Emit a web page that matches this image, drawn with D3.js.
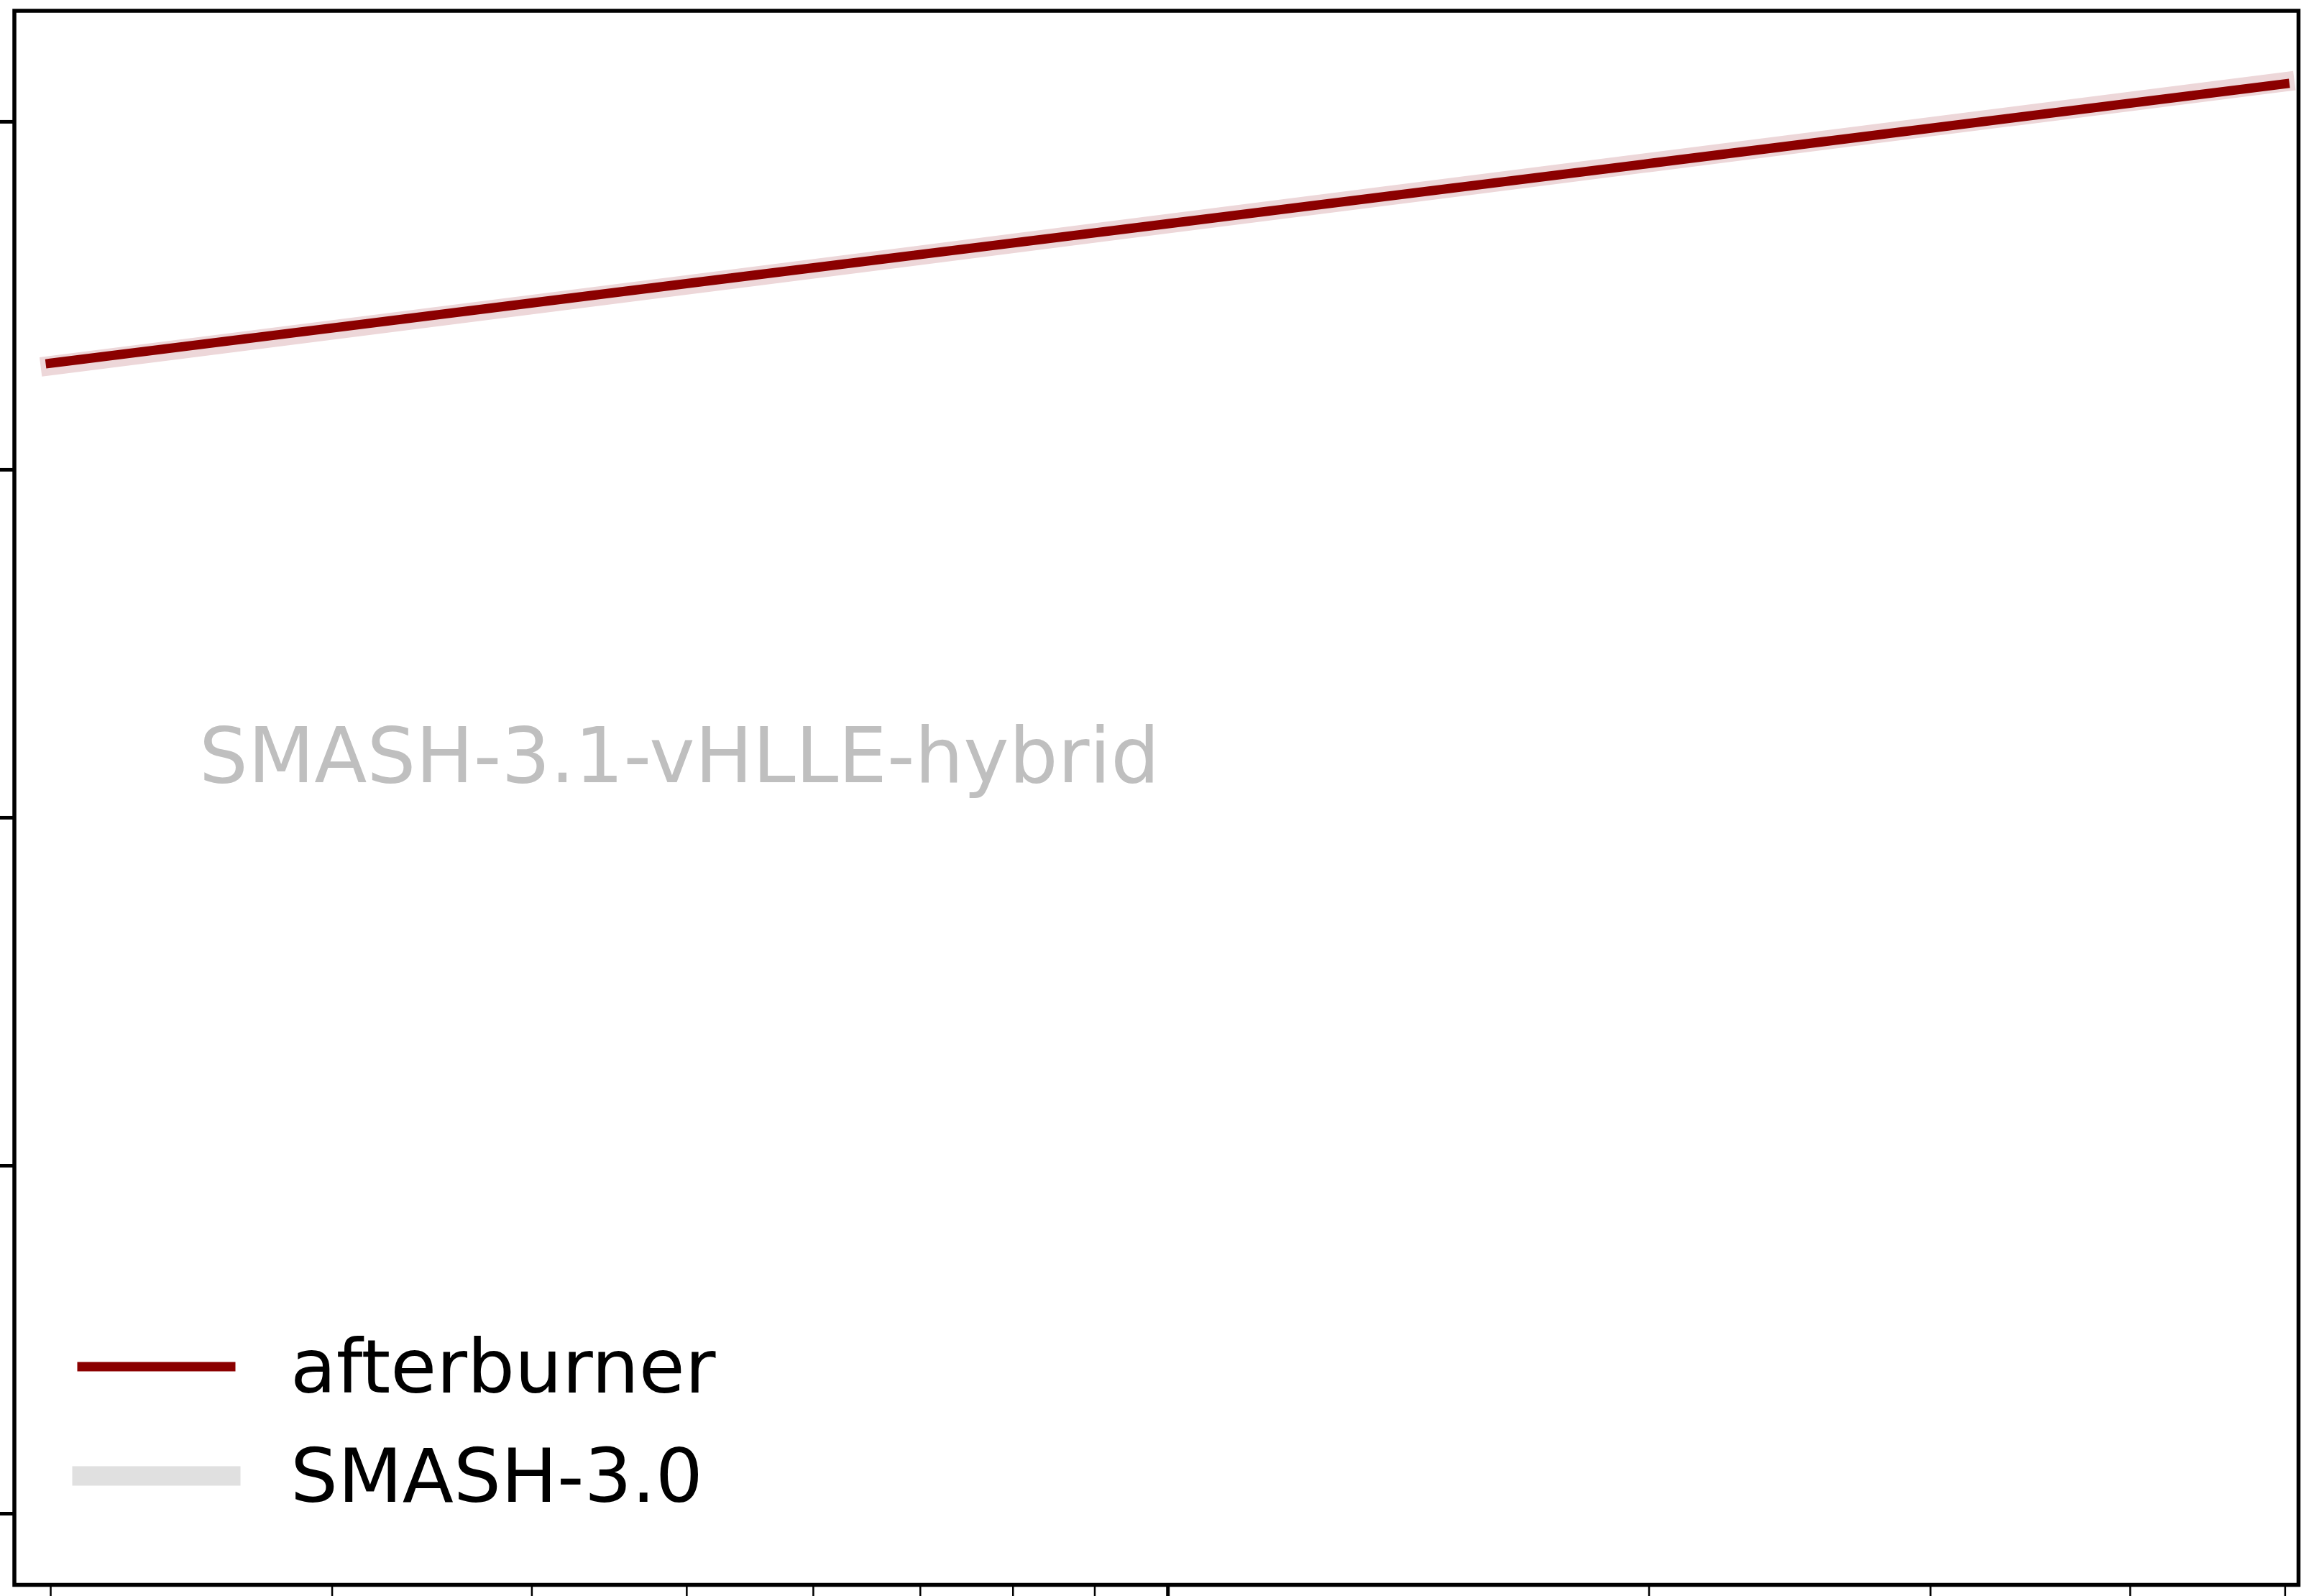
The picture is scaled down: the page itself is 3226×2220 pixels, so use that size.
<!DOCTYPE html>
<html>
<head>
<meta charset="utf-8">
<script src="https://cdn.jsdelivr.net/npm/d3@7"></script>
<style>
  body { margin: 0; background: #fff; }
  text { font-family: "DejaVu Sans", sans-serif; }
</style>
</head>
<body>
<div id="chart"></div>
<script>
// values (no tick labels are visible, so y units are arbitrary)
const xValues = [2, 5, 10, 20, 50];
const afterburner = [4.305, 4.534, 4.706, 4.879, 5.108];
const smash30 = [4.298, 4.530, 4.706, 4.882, 5.114];
const xMajorTicks = [10];
const xMinorTicks = [2, 3, 4, 5, 6, 7, 8, 9, 20, 30, 40, 50];
const yTicks = [1, 2, 3, 4, 5];
const seriesNames = ['afterburner', 'SMASH-3.0'];
const label = 'SMASH-3.1-vHLLE-hybrid';

const width = 3226;
const height = 2220;
const frame = { left: 20, right: 3197.5, top: 15, bottom: 2204.5 };

const svg = d3.select('#chart').append('svg')
    .attr('width', width)
    .attr('height', height);

svg.append('rect')
    .attr('width', width)
    .attr('height', height)
    .attr('fill', '#fff');

const x = d3.scaleLog()
    .domain([1.899, 51.0])
    .range([frame.left, frame.right]);

const y = d3.scaleLinear()
    .domain([0.7944, 5.318])
    .range([frame.bottom, frame.top]);

// axes (labels fall outside the cropped figure)
const yAxis = svg.append('g')
    .attr('transform', `translate(${frame.left},0)`)
    .call(d3.axisLeft(y).tickValues(yTicks).tickSize(22).tickFormat(''));
yAxis.select('.domain').remove();
yAxis.selectAll('line').attr('stroke', '#000').attr('stroke-width', 5);

const xMinor = svg.append('g')
    .attr('transform', `translate(0,${frame.bottom})`)
    .call(d3.axisBottom(x).tickValues(xMinorTicks).tickSize(16).tickFormat(''));
xMinor.select('.domain').remove();
xMinor.selectAll('line').attr('stroke', '#000').attr('stroke-width', 2.5);

const xMajor = svg.append('g')
    .attr('transform', `translate(0,${frame.bottom})`)
    .call(d3.axisBottom(x).tickValues(xMajorTicks).tickSize(22).tickFormat(''));
xMajor.select('.domain').remove();
xMajor.selectAll('line').attr('stroke', '#000').attr('stroke-width', 5);

const line = d3.line()
    .x(d => x(d[0]))
    .y(d => y(d[1]));

svg.append('path')
    .datum(d3.zip(xValues, smash30))
    .attr('d', line)
    .attr('fill', 'none')
    .attr('stroke', '#edd7d9')
    .attr('stroke-width', 27)
    .attr('stroke-linecap', 'square');

svg.append('path')
    .datum(d3.zip(xValues, afterburner))
    .attr('d', line)
    .attr('fill', 'none')
    .attr('stroke', '#8b0000')
    .attr('stroke-width', 13)
    .attr('stroke-linecap', 'square');

svg.append('text')
    .attr('x', 277)
    .attr('y', 1088)
    .attr('font-size', 107)
    .attr('fill', '#bfbfbf')
    .text(label);

// legend
const legendStyles = [
    { color: '#8b0000', width: 13 },
    { color: '#e0e0e0', width: 27 }
];
const legend = svg.append('g')
    .selectAll('g')
    .data(seriesNames)
    .enter().append('g')
    .attr('transform', (d, i) => `translate(0,${1901 + i * 152})`);

legend.append('line')
    .attr('x1', 114)
    .attr('x2', 321)
    .attr('stroke', (d, i) => legendStyles[i].color)
    .attr('stroke-width', (d, i) => legendStyles[i].width)
    .attr('stroke-linecap', 'square');

legend.append('text')
    .attr('x', 404)
    .attr('y', 36)
    .attr('font-size', 104)
    .attr('fill', '#000')
    .text(d => d);

// frame drawn last so it sits on top
svg.append('rect')
    .attr('x', frame.left)
    .attr('y', frame.top)
    .attr('width', frame.right - frame.left)
    .attr('height', frame.bottom - frame.top)
    .attr('fill', 'none')
    .attr('stroke', '#000')
    .attr('stroke-width', 5.5);
</script>
</body>
</html>
